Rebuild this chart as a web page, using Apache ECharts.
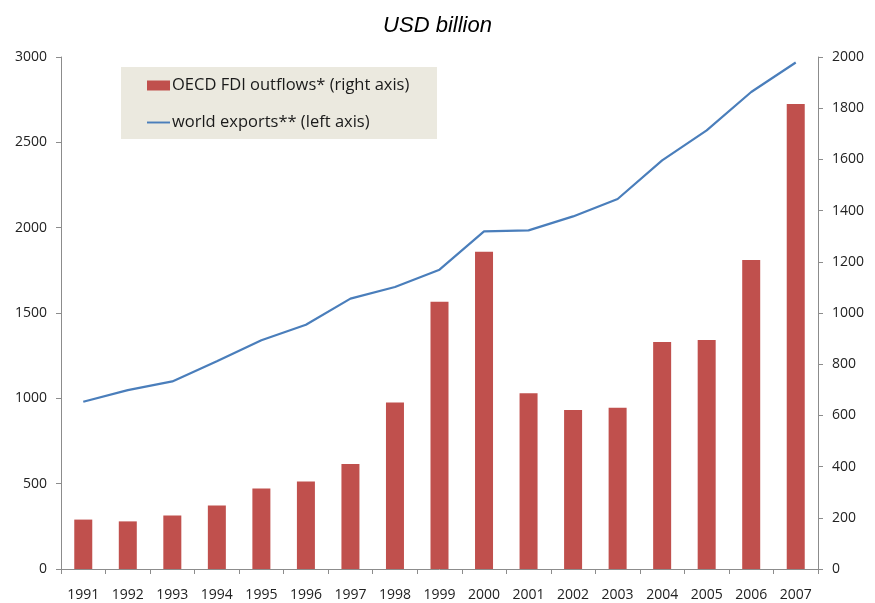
<!DOCTYPE html>
<html>
<head>
<meta charset="utf-8">
<script src="https://cdn.jsdelivr.net/npm/echarts@6/dist/echarts.min.js"></script>
<style>
  html, body { margin: 0; padding: 0; background: #fff; }
  #chart { width: 875px; height: 603px; }
</style>
</head>
<body>
<div id="chart"></div>
<script>
const years = ['1991', '1992', '1993', '1994', '1995', '1996', '1997', '1998', '1999',
  '2000', '2001', '2002', '2003', '2004', '2005', '2006', '2007']
// OECD FDI outflows, right axis
const fdiOutflows = [193, 186, 209, 248, 314, 342, 410, 650, 1044,
  1239, 687, 621, 630, 887, 895, 1207, 1816]
// world exports, left axis
const worldExports = [980, 1048, 1099, 1217, 1340, 1431, 1584, 1652, 1754,
  1978, 1984, 2066, 2168, 2394, 2570, 2795, 2968]

const barName = 'OECD FDI outflows* (right axis)'
const lineName = 'world exports** (left axis)'

const myChart = echarts.init(document.getElementById('chart'))

const labelFont = '"Open Sans", "Liberation Sans", sans-serif'
const axisGray = '#8c8c8c'

const plainNumber = v => String(v)

myChart.setOption({
  animation: false,
  title: {
    text: 'USD billion',
    left: 'center',
    top: 10,
    textStyle: {
      fontFamily: '"Liberation Sans", Arial, sans-serif',
      fontStyle: 'italic',
      fontWeight: 'normal',
      fontSize: 22,
      color: '#000'
    }
  },
  // legend box
  graphic: [{
    type: 'rect',
    left: 121,
    top: 67,
    shape: { width: 316, height: 72 },
    style: { fill: '#ebe9df' },
    z: 0
  }],
  legend: {
    orient: 'vertical',
    left: 147,
    top: 77,
    padding: 0,
    itemGap: 20,
    itemWidth: 23,
    itemHeight: 10,
    textStyle: {
      fontFamily: labelFont,
      fontSize: 16.5,
      color: '#1a1a1a',
      padding: [0, 0, 0, -3]
    },
    data: [
      { name: barName, icon: 'rect' },
      { name: lineName, icon: 'path://M0,0H24V2H0Z' }
    ]
  },
  grid: {
    left: 61,
    right: 57,
    top: 57,
    bottom: 34
  },
  xAxis: {
    type: 'category',
    data: years,
    axisLine: { lineStyle: { color: axisGray } },
    axisTick: { show: true, length: 5, lineStyle: { color: axisGray } },
    axisLabel: {
      color: '#222',
      fontFamily: labelFont,
      fontSize: 14,
      margin: 19
    }
  },
  yAxis: [
    {
      type: 'value',
      position: 'left',
      min: 0,
      max: 3000,
      interval: 500,
      splitLine: { show: false },
      axisLine: { show: true, lineStyle: { color: axisGray } },
      axisTick: { show: true, length: 5, lineStyle: { color: axisGray } },
      axisLabel: {
        color: '#222',
        fontFamily: labelFont,
        fontSize: 14,
        margin: 14,
        formatter: plainNumber
      }
    },
    {
      type: 'value',
      position: 'right',
      min: 0,
      max: 2000,
      interval: 200,
      splitLine: { show: false },
      axisLine: { show: true, lineStyle: { color: axisGray } },
      axisTick: { show: true, length: 5, lineStyle: { color: axisGray } },
      axisLabel: {
        color: '#222',
        fontFamily: labelFont,
        fontSize: 14,
        margin: 14,
        formatter: plainNumber
      }
    }
  ],
  series: [
    {
      name: barName,
      type: 'bar',
      yAxisIndex: 1,
      barWidth: 18,
      itemStyle: { color: '#c0504d' },
      data: fdiOutflows
    },
    {
      name: lineName,
      type: 'line',
      yAxisIndex: 0,
      showSymbol: false,
      symbol: 'none',
      lineStyle: { color: '#4a7ebb', width: 2.2 },
      itemStyle: { color: '#4a7ebb' },
      data: worldExports
    }
  ]
})
</script>
</body>
</html>
